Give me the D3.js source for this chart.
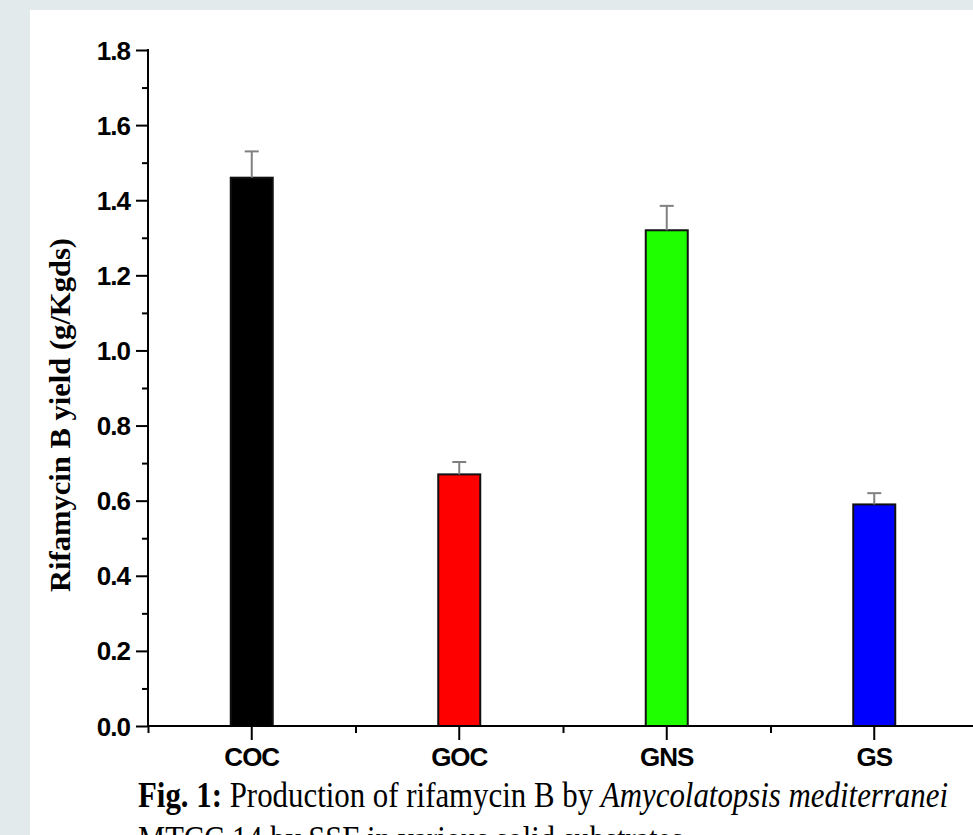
<!DOCTYPE html>
<html>
<head>
<meta charset="utf-8">
<script src="https://cdn.jsdelivr.net/npm/d3@7"></script>
<style>
  html, body { margin: 0; padding: 0; background: #e2eaec; }
  svg { display: block; }
</style>
</head>
<body>
<svg id="chart" width="973" height="835"></svg>
<script>
const categories = ["COC", "GOC", "GNS", "GS"];
const values = [1.46, 0.67, 1.32, 0.59];
const errors = [0.07, 0.033, 0.065, 0.03];
const barColors = ["#000000", "#ff0000", "#1fff00", "#0000ff"];
const yTicks = [0.0, 0.2, 0.4, 0.6, 0.8, 1.0, 1.2, 1.4, 1.6, 1.8];
const yMinorTicks = [0.1, 0.3, 0.5, 0.7, 0.9, 1.1, 1.3, 1.5, 1.7];
const yLabel = "Rifamycin B yield (g/Kgds)";
const captionLine1 = [
  {t: "Fig. 1:", w: "bold", s: "normal"},
  {t: " Production of rifamycin B by ", w: "normal", s: "normal"},
  {t: "Amycolatopsis mediterranei", w: "normal", s: "italic"}
];
const captionLine2 = "MTCC 14 by SSF in various solid substrates";

const svg = d3.select("#chart");
// white panel
svg.append("rect").attr("x", 30).attr("y", 10).attr("width", 960).attr("height", 840).attr("fill", "#ffffff");

const x0 = 148, yBase = 726, yTop = 50;
const x = d3.scaleBand().domain(categories).range([x0, x0 + 830]).padding(0);
const y = d3.scaleLinear().domain([0, 1.8]).range([yBase, yTop]);
const barW = 42;

const g = svg.append("g");

// bars
categories.forEach((c, i) => {
  const cx = x(c) + x.bandwidth() / 2;
  g.append("rect")
    .attr("x", cx - barW / 2)
    .attr("y", y(values[i]))
    .attr("width", barW)
    .attr("height", yBase - y(values[i]))
    .attr("fill", barColors[i])
    .attr("stroke", "#111")
    .attr("stroke-width", 2);
  // error bars
  g.append("line")
    .attr("x1", cx).attr("x2", cx)
    .attr("y1", y(values[i])).attr("y2", y(values[i] + errors[i]))
    .attr("stroke", "#808080").attr("stroke-width", 2);
  g.append("line")
    .attr("x1", cx - 7).attr("x2", cx + 7)
    .attr("y1", y(values[i] + errors[i])).attr("y2", y(values[i] + errors[i]))
    .attr("stroke", "#808080").attr("stroke-width", 2);
});

// y axis major
const yAxis = d3.axisLeft(y).tickValues(yTicks).tickFormat(d3.format(".1f")).tickSize(12).tickPadding(6);
const ya = g.append("g").attr("transform", `translate(${x0},0)`).call(yAxis);
ya.select(".domain").remove();
ya.selectAll(".tick line").attr("stroke", "#000").attr("stroke-width", 2);
ya.selectAll(".tick text")
  .attr("font-family", "'Liberation Sans', Arial, sans-serif")
  .attr("font-weight", "bold").attr("font-size", 26).attr("fill", "#000")
  .attr("letter-spacing", -1).attr("dy", "0.35em");
// y minor
const yMinor = d3.axisLeft(y).tickValues(yMinorTicks).tickFormat("").tickSize(6);
const ym = g.append("g").attr("transform", `translate(${x0},0)`).call(yMinor);
ym.select(".domain").remove();
ym.selectAll(".tick line").attr("stroke", "#000").attr("stroke-width", 2);

// x axis major
const xAxis = d3.axisBottom(x).tickSize(14).tickPadding(8);
const xa = g.append("g").attr("transform", `translate(0,${yBase})`).call(xAxis);
xa.select(".domain").remove();
xa.selectAll(".tick line").attr("stroke", "#000").attr("stroke-width", 2);
xa.selectAll(".tick text")
  .attr("font-family", "'Liberation Sans', Arial, sans-serif")
  .attr("font-weight", "bold").attr("font-size", 26).attr("fill", "#000")
  .attr("letter-spacing", -1);
// x minor at band edges
const xEdges = d3.scaleLinear().domain([0, categories.length]).range(x.range());
const xMinor = d3.axisBottom(xEdges).tickValues(d3.range(categories.length + 1)).tickFormat("").tickSize(7);
const xm = g.append("g").attr("transform", `translate(0,${yBase})`).call(xMinor);
xm.select(".domain").remove();
xm.selectAll(".tick line").attr("stroke", "#000").attr("stroke-width", 2);

// axis lines
g.append("line").attr("x1", x0).attr("x2", x0).attr("y1", yTop - 1).attr("y2", yBase)
  .attr("stroke", "#000").attr("stroke-width", 2);
g.append("line").attr("x1", x0 - 1).attr("x2", x0 + 830).attr("y1", yBase).attr("y2", yBase)
  .attr("stroke", "#000").attr("stroke-width", 2);

// y label
svg.append("text")
  .attr("transform", "translate(70,415) rotate(-90)")
  .attr("text-anchor", "middle")
  .attr("font-family", "'Liberation Serif', 'Times New Roman', serif")
  .attr("font-weight", "bold").attr("font-size", 30)
  .attr("textLength", 354).attr("lengthAdjust", "spacingAndGlyphs")
  .attr("fill", "#000")
  .text(yLabel);

// caption
const cap1 = svg.append("text")
  .attr("x", 138).attr("y", 807)
  .attr("font-family", "'Liberation Serif', 'Times New Roman', serif")
  .attr("font-size", 36).attr("fill", "#000")
  .attr("textLength", 810).attr("lengthAdjust", "spacingAndGlyphs");
captionLine1.forEach(p => {
  cap1.append("tspan").attr("font-weight", p.w).attr("font-style", p.s).text(p.t);
});
svg.append("text")
  .attr("x", 138).attr("y", 851)
  .attr("font-family", "'Liberation Serif', 'Times New Roman', serif")
  .attr("font-size", 36).attr("fill", "#000")
  .attr("textLength", 545).attr("lengthAdjust", "spacingAndGlyphs")
  .text(captionLine2);
</script>
</body>
</html>
